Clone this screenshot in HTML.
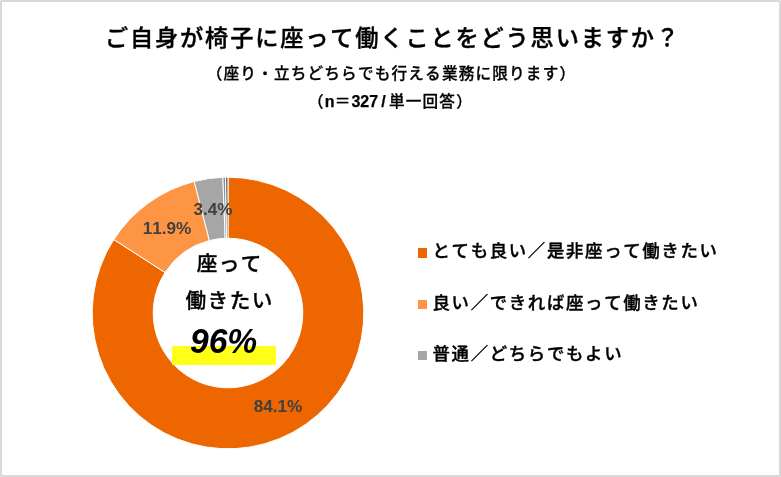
<!DOCTYPE html>
<html lang="ja"><head><meta charset="utf-8"><title>chart</title>
<style>
html,body{margin:0;padding:0;background:#fff;}
body{width:781px;height:477px;overflow:hidden;position:relative;font-family:"Liberation Sans","Noto Sans CJK JP",sans-serif;color:#000;}
.frame{position:absolute;left:0;top:0;width:777px;height:473px;border:2px solid #d9d9d9;border-radius:1.5px;background:#fff;}
.t{position:absolute;white-space:nowrap;line-height:1;font-kerning:none;}
.j{font-weight:500;-webkit-text-stroke:0.017em currentColor;}
.l{font-weight:700;-webkit-text-stroke:0.25px currentColor;}
.title{left:2.4px;width:781px;text-align:center;top:27px;font-size:23.2px;letter-spacing:1.85px;}
.sub1{left:1px;width:781px;text-align:center;top:65.5px;font-size:15.6px;letter-spacing:1.2px;}
.sub2{left:0px;width:781px;text-align:center;top:93.5px;font-size:15.6px;letter-spacing:1.2px;}
.sub2 .l{font-size:16px;letter-spacing:0;}
.lbl{font-size:16.1px;color:#404040;font-weight:700;transform:translate(-50%,-50%) scaleX(1.065);}
.leg{font-size:17.4px;left:432.5px;letter-spacing:1.68px;-webkit-text-stroke-width:0.38px;}
.mk{position:absolute;width:9.2px;height:9px;left:417.9px;}
.c1{font-size:20.6px;letter-spacing:1.5px;}
.pct{font-size:35px;font-style:italic;font-weight:700;transform:scaleX(0.96);transform-origin:0 0;}
.hl{position:absolute;left:172px;top:346px;width:104px;height:18.5px;background:#FFFF1A;}
svg{position:absolute;left:0;top:0;}
</style></head><body>
<div class="frame"></div>
<div class="t j title" id="title">ご自身が椅子に座って働くことをどう思いますか？</div>
<div class="t j sub1" id="sub1">（座り・立ちどちらでも行える業務に限ります）</div>
<div class="t j sub2" id="sub2">（<span class="l">n</span>＝<span class="l">327</span><span class="l" style="margin:0 3.2px">/</span>単一回答）</div>
<svg width="781" height="477" viewBox="0 0 781 477">
<path d="M228.00 177.20A135.8 135.8 0 1 1 113.80 239.52L165.10 272.52A74.8 74.8 0 1 0 228.00 238.20Z" fill="#EE6600" stroke="#fff" stroke-width="1" stroke-linejoin="round"/>
<path d="M113.80 239.52A135.8 135.8 0 0 1 194.23 181.47L209.40 240.55A74.8 74.8 0 0 0 165.10 272.52Z" fill="#FE9545" stroke="#fff" stroke-width="1" stroke-linejoin="round"/>
<path d="M194.23 181.47A135.8 135.8 0 0 1 222.88 177.30L225.18 238.25A74.8 74.8 0 0 0 209.40 240.55Z" fill="#A6A6A6" stroke="#fff" stroke-width="1" stroke-linejoin="round"/>
<path d="M222.88 177.30A135.8 135.8 0 0 1 225.44 177.22L226.59 238.21A74.8 74.8 0 0 0 225.18 238.25Z" fill="#8C8C8C" stroke="#fff" stroke-width="1" stroke-linejoin="round"/>
<path d="M225.44 177.22A135.8 135.8 0 0 1 228.00 177.20L228.00 238.20A74.8 74.8 0 0 0 226.59 238.21Z" fill="#6E6E6E" stroke="#fff" stroke-width="1" stroke-linejoin="round"/>
</svg>
<div class="hl"></div>
<div class="t j c1" id="c1" style="left:196.7px;top:254px;">座って</div>
<div class="t j c1" id="c2" style="left:185.5px;top:290.5px;">働きたい</div>
<div class="t pct" id="pct" style="left:190.1px;top:323.1px;">96%</div>
<div class="t lbl" id="l3" style="left:212.7px;top:209.1px;">3.4%</div>
<div class="t lbl" id="l2" style="left:166.9px;top:227.8px;">11.9%</div>
<div class="t lbl" id="l1" style="left:278.2px;top:406px;">84.1%</div>
<div class="mk" style="top:248.2px;height:9.7px;background:#EE6600"></div>
<div class="mk" style="top:300px;background:#FE9545"></div>
<div class="mk" style="top:351.2px;background:#A6A6A6"></div>
<div class="t j leg" id="g1" style="top:243px;">とても良い／是非座って働きたい</div>
<div class="t j leg" id="g2" style="top:294.5px;">良い／できれば座って働きたい</div>
<div class="t j leg" id="g3" style="top:346.1px;">普通／どちらでもよい</div>
</body></html>
